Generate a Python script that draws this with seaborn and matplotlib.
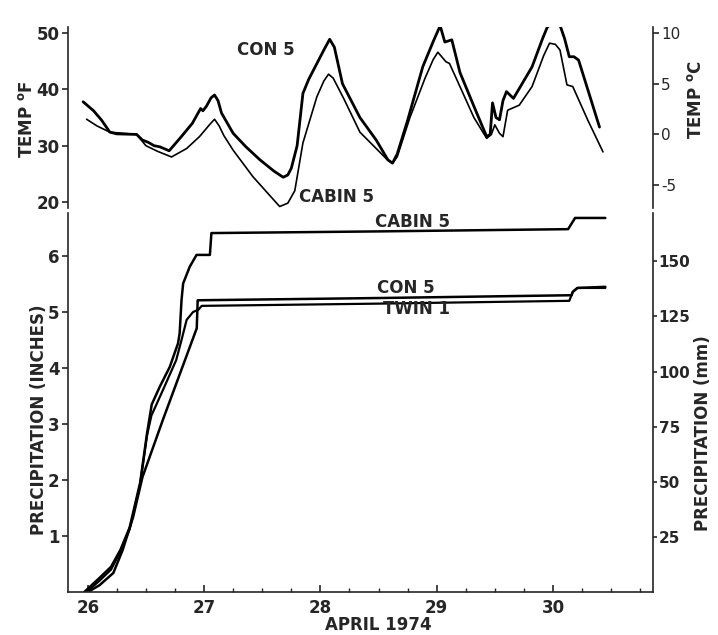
import matplotlib
matplotlib.use('Agg')
import matplotlib.pyplot as plt
import seaborn as sns
import pandas as pd
from matplotlib.ticker import MultipleLocator

# air temperature, deg F (day of April 1974)
con5_temp_day = [25.96, 26.05, 26.12, 26.19, 26.25, 26.42, 26.47, 26.52, 26.57, 26.62, 26.70,
                 26.80, 26.90, 26.97, 26.99, 27.02, 27.06, 27.09, 27.12, 27.15, 27.25, 27.36,
                 27.48, 27.60, 27.68, 27.72, 27.75, 27.80, 27.85, 27.90, 27.97, 28.03, 28.08,
                 28.12, 28.19, 28.34, 28.48, 28.58, 28.62, 28.66, 28.75, 28.88, 28.97, 29.03,
                 29.07, 29.13, 29.20, 29.32, 29.43, 29.46, 29.48, 29.51, 29.54, 29.57, 29.60,
                 29.66, 29.82, 29.91, 29.95, 29.99, 30.03, 30.06, 30.10, 30.14, 30.18, 30.22,
                 30.40]
con5_temp_f = [37.8, 36.2, 34.5, 32.4, 32.1, 32.0, 31.0, 30.6, 30.0, 29.8, 29.1,
               31.5, 34.0, 36.6, 36.2, 37.0, 38.5, 39.0, 38.0, 35.8, 32.2, 29.8,
               27.5, 25.5, 24.4, 24.8, 26.0, 30.0, 39.3, 41.8, 44.6, 47.0, 48.9,
               47.5, 41.0, 35.0, 31.0, 27.5, 26.9, 28.5, 34.5, 44.0, 48.5, 51.3,
               48.4, 48.8, 43.0, 37.0, 31.6, 32.0, 37.6, 35.0, 34.6, 38.0, 39.6,
               38.4, 44.0, 49.0, 51.0, 51.8, 51.9, 51.4, 49.0, 45.8, 45.8, 45.2,
               33.3]

cabin5_temp_day = [25.99, 26.08, 26.19, 26.42, 26.50, 26.60, 26.72, 26.85, 26.96, 27.05, 27.09,
                   27.13, 27.17, 27.25, 27.42, 27.55, 27.65, 27.72, 27.78, 27.85, 27.97, 28.03,
                   28.07, 28.11, 28.20, 28.34, 28.48, 28.58, 28.62, 28.66, 28.77, 28.90, 28.97,
                   29.01, 29.08, 29.11, 29.20, 29.32, 29.43, 29.47, 29.50, 29.54, 29.57, 29.61,
                   29.71, 29.82, 29.92, 29.97, 30.02, 30.06, 30.12, 30.17, 30.30, 30.43]
cabin5_temp_f = [34.7, 33.5, 32.4, 32.0, 30.0, 29.0, 28.0, 29.5, 31.6, 33.8, 34.7,
                 33.5, 31.8, 29.2, 24.5, 21.5, 19.2, 19.8, 22.0, 30.5, 38.7, 41.5,
                 42.7, 42.0, 38.4, 32.4, 29.5, 27.4, 26.9, 28.0, 35.0, 42.0, 45.3,
                 46.6, 44.9, 44.6, 40.5, 35.0, 31.3, 32.0, 33.7, 32.2, 31.6, 36.3,
                 37.2, 40.5, 46.0, 48.2, 48.0, 47.0, 40.8, 40.5, 34.5, 28.9]

# cumulative precipitation, inches
cabin5_prcp_day = [25.97, 26.10, 26.20, 26.28, 26.36, 26.45, 26.51, 26.55, 26.62, 26.705, 26.776,
                   26.79, 26.806, 26.82, 26.877, 26.935, 27.05, 27.063, 28.50, 30.13, 30.19, 30.45]
cabin5_prcp_in = [0.0, 0.25, 0.45, 0.75, 1.15, 1.95, 2.84, 3.35, 3.67, 4.02, 4.44,
                  4.62, 5.21, 5.51, 5.81, 6.02, 6.02, 6.41, 6.44, 6.48, 6.68, 6.68]

twin1_prcp_day = [25.99, 26.10, 26.20, 26.28, 26.36, 26.45, 26.51, 26.547, 26.647, 26.76, 26.806,
                  26.85, 26.905, 26.95, 26.98, 28.50, 30.14, 30.17, 30.21, 30.45]
twin1_prcp_in = [0.0, 0.2, 0.4, 0.72, 1.12, 1.92, 2.8, 3.15, 3.61, 4.14, 4.5,
                 4.86, 5.0, 5.04, 5.11, 5.15, 5.2, 5.36, 5.43, 5.43]

con5_prcp_day = [26.0, 26.10, 26.22, 26.30, 26.39, 26.47, 26.645, 26.937, 26.945, 28.50, 30.16,
                 30.17, 30.21, 30.45]
con5_prcp_in = [0.0, 0.12, 0.34, 0.75, 1.34, 2.05, 3.07, 4.71, 5.21, 5.25, 5.3,
                5.36, 5.43, 5.45]

day_ticks = [26, 27, 28, 29, 30]
temp_f_ticks = [20, 30, 40, 50]
temp_c_ticks = [-5, 0, 5, 10]
prcp_in_ticks = [1, 2, 3, 4, 5, 6]
prcp_mm_ticks = [25, 50, 75, 100, 125, 150]

sns.set_style('ticks')
plt.rcParams['font.family'] = ['DejaVu Sans']
plt.rcParams['font.weight'] = 'bold'
plt.rcParams['font.size'] = 12
plt.rcParams['axes.labelweight'] = 'bold'
plt.rcParams['axes.linewidth'] = 1.2
plt.rcParams['axes.unicode_minus'] = False
plt.rcParams['mathtext.fontset'] = 'dejavusans'

xlim = (25.83, 30.86)
f_lim = (19, 51)
in_lim = (0, 6.77)

fig = plt.figure(figsize=(7.18, 6.35), dpi=100)
ax_t = fig.add_axes([0.0947, 0.673, 0.8148, 0.2838])
ax_b = fig.add_axes([0.0947, 0.0677, 0.8148, 0.597])

# ---- temperature panel
sns.lineplot(x=con5_temp_day, y=con5_temp_f, ax=ax_t, estimator=None, sort=False,
             color='black', lw=2.0)
sns.lineplot(x=cabin5_temp_day, y=cabin5_temp_f, ax=ax_t, estimator=None, sort=False,
             color='black', lw=1.2)
ax_t.set_xlim(xlim)
ax_t.set_ylim(f_lim)
ax_t.set_yticks(temp_f_ticks)
ax_t.set_xticks([])
for s in ['top', 'bottom', 'right']:
    ax_t.spines[s].set_visible(False)
ax_t.tick_params(axis='y', length=4, width=1.2, pad=2)
ax_t.set_ylabel(r'TEMP $^{\mathbf{o}}$F', fontsize=12)
ax_t.yaxis.set_label_coords(-0.055, 0.49)

ax_tc = ax_t.twinx()
ax_tc.set_ylim((f_lim[0] - 32) * 5 / 9, (f_lim[1] - 32) * 5 / 9)
ax_tc.set_yticks(temp_c_ticks)
for s in ['top', 'bottom', 'left']:
    ax_tc.spines[s].set_visible(False)
ax_tc.tick_params(axis='y', length=4, width=1.2, pad=2, labelsize=11)
for lbl in ax_tc.get_yticklabels():
    lbl.set_fontweight('normal')
ax_tc.set_ylabel(r'TEMP $^{\mathbf{o}}$C', fontsize=12)
ax_tc.yaxis.set_label_coords(1.058, 0.6)

ax_t.text(27.28, 47.0, 'CON 5', ha='left', va='center', fontsize=12, fontweight='bold')
ax_t.text(27.82, 20.9, 'CABIN 5', ha='left', va='center', fontsize=12, fontweight='bold')

# ---- precipitation panel
sns.lineplot(x=cabin5_prcp_day, y=cabin5_prcp_in, ax=ax_b, estimator=None, sort=False,
             color='black', lw=1.8)
sns.lineplot(x=twin1_prcp_day, y=twin1_prcp_in, ax=ax_b, estimator=None, sort=False,
             color='black', lw=1.6)
sns.lineplot(x=con5_prcp_day, y=con5_prcp_in, ax=ax_b, estimator=None, sort=False,
             color='black', lw=1.8)
ax_b.set_xlim(xlim)
ax_b.set_ylim(in_lim)
ax_b.set_xticks(day_ticks)
ax_b.set_xticklabels([str(d) for d in day_ticks])
ax_b.xaxis.set_minor_locator(MultipleLocator(0.25))
ax_b.set_yticks(prcp_in_ticks)
for s in ['top', 'right']:
    ax_b.spines[s].set_visible(False)
ax_b.tick_params(axis='x', which='major', direction='in', length=5, width=1.2, pad=5)
ax_b.tick_params(axis='x', which='minor', direction='in', length=3, width=1.0)
ax_b.tick_params(axis='y', length=4, width=1.2, pad=2)
ax_b.set_ylabel('PRECIPITATION (INCHES)', fontsize=12)
ax_b.yaxis.set_label_coords(-0.034, 0.455)
ax_b.set_xlabel('')

ax_bm = ax_b.twinx()
ax_bm.set_ylim(in_lim[0] * 25.4, in_lim[1] * 25.4)
ax_bm.set_yticks(prcp_mm_ticks)
for s in ['top', 'bottom', 'left']:
    ax_bm.spines[s].set_visible(False)
ax_bm.tick_params(axis='y', length=3, width=1.2, pad=1, labelsize=11)
ax_bm.set_ylabel('PRECIPITATION (mm)', fontsize=12)
ax_bm.yaxis.set_label_coords(1.07, 0.42)

ax_b.text(28.47, 6.61, 'CABIN 5', ha='left', va='center', fontsize=12, fontweight='bold')
ax_b.text(28.49, 5.43, 'CON 5', ha='left', va='center', fontsize=12, fontweight='bold')
ax_b.text(28.54, 5.05, 'TWIN 1', ha='left', va='center', fontsize=12, fontweight='bold')

fig.text(378 / 718, 0.016, 'APRIL 1974', ha='center', va='center', fontsize=12, fontweight='bold')

fig.savefig('out.png', dpi=100)
